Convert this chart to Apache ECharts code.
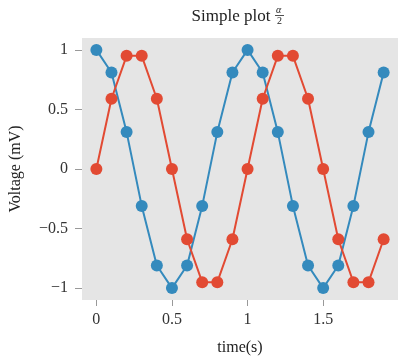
<!DOCTYPE html>
<html>
<head>
<meta charset="utf-8">
<script src="https://cdn.jsdelivr.net/npm/echarts@6/dist/echarts.min.js"></script>
<style>
  html, body { margin: 0; padding: 0; background: #fff; }
  #chart1 { width: 400px; height: 361px; }
</style>
</head>
<body>
<div id="chart1"></div>
<script>
// data
const times = [0, 0.1, 0.2, 0.3, 0.4, 0.5, 0.6, 0.7, 0.8, 0.9, 1.0, 1.1, 1.2, 1.3, 1.4, 1.5, 1.6, 1.7, 1.8, 1.9];
const blueVals = [1, 0.81, 0.31, -0.31, -0.81, -1, -0.81, -0.31, 0.31, 0.81, 1, 0.81, 0.31, -0.31, -0.81, -1, -0.81, -0.31, 0.31, 0.81];
const redVals = [0, 0.59, 0.95, 0.95, 0.59, 0, -0.59, -0.95, -0.95, -0.59, 0, 0.59, 0.95, 0.95, 0.59, 0, -0.59, -0.95, -0.95, -0.59];
const xTicks = [0, 0.5, 1, 1.5];
const yTicks = [-1, -0.5, 0, 0.5, 1];

const font = "'Liberation Serif', 'DejaVu Serif', serif";
const myChart1 = echarts.init(document.getElementById("chart1"));

function pairs(ys) {
  return times.map((t, i) => [t, ys[i]]);
}

myChart1.setOption({
  animation: false,
  title: {
    text: "Simple plot",
    left: 226,
    textAlign: "center",
    top: 3,
    textStyle: { fontFamily: font, fontSize: 17, fontWeight: "normal", color: "#222" },
  },
  // the α/2 fraction after the title
  graphic: [
    {
      type: "text",
      left: 276,
      top: 5,
      style: { text: "α", font: "italic 10px " + font, fill: "#222" },
    },
    {
      type: "line",
      shape: { x1: 275, y1: 15.5, x2: 284, y2: 15.5 },
      style: { stroke: "#222", lineWidth: 0.8 },
    },
    {
      type: "text",
      left: 277,
      top: 16,
      style: { text: "2", font: "10px " + font, fill: "#222" },
    },
  ],
  grid: {
    left: 80,
    right: 2,
    top: 38,
    bottom: 57,
    show: true,
    backgroundColor: "#e5e5e5",
    borderWidth: 0,
  },
  xAxis: {
    type: "value",
    min: -0.095,
    max: 1.995,
    name: "time(s)",
    nameLocation: "middle",
    nameGap: 40,
    nameTextStyle: { fontFamily: font, fontSize: 16, color: "#222" },
    axisLine: { show: false, onZero: false },
    splitLine: { show: false },
    axisTick: {
      show: true,
      length: 6,
      customValues: xTicks,
      lineStyle: { color: "#999" },
    },
    axisLabel: {
      customValues: xTicks,
      margin: 12,
      fontFamily: font,
      fontSize: 16,
      color: "#333",
      formatter: (v) => String(v),
    },
  },
  yAxis: {
    type: "value",
    min: -1.1,
    max: 1.1,
    name: "Voltage (mV)",
    nameLocation: "middle",
    nameGap: 58,
    nameTextStyle: { fontFamily: font, fontSize: 16, color: "#222" },
    axisLine: { show: false, onZero: false },
    splitLine: { show: false },
    axisTick: {
      show: true,
      length: 7,
      customValues: yTicks,
      lineStyle: { color: "#999" },
    },
    axisLabel: {
      customValues: yTicks,
      margin: 14,
      fontFamily: font,
      fontSize: 16,
      color: "#333",
      formatter: (v) => (v < 0 ? "\u2212" + String(-v) : String(v)),
    },
  },
  series: [
    {
      type: "line",
      data: pairs(blueVals),
      symbol: "circle",
      symbolSize: 12,
      lineStyle: { color: "#348abd", width: 2 },
      itemStyle: { color: "#348abd" },
    },
    {
      type: "line",
      data: pairs(redVals),
      symbol: "circle",
      symbolSize: 12,
      lineStyle: { color: "#e24a33", width: 2 },
      itemStyle: { color: "#e24a33" },
    },
  ],
});
</script>
</body>
</html>
